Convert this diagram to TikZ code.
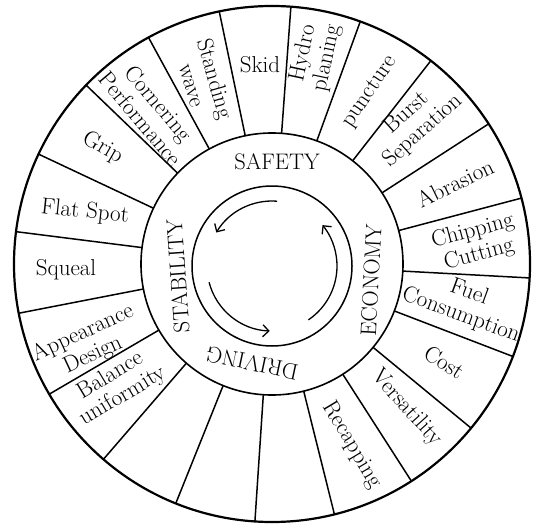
\documentclass[tikz,border=0pt]{standalone}
\usepackage{fontspec}
\usetikzlibrary{arrows.meta}
\begin{document}
\begin{tikzpicture}[x=1pt,y=1pt,
  lbl/.style={font=\fontsize{23}{24}\selectfont, align=center, inner sep=0pt},
  ringlbl/.style={font=\fontsize{22.5}{24}\selectfont, inner sep=0pt},
  spoke/.style={line width=1.5pt},
  arr/.style={line width=1.3pt, -{Straight Barb[length=6pt,width=12pt,line width=1.3pt]}}]
\useasboundingbox (0,0) rectangle (537,523);
\begin{scope}[shift={(272,259)}]
\coordinate (c) at (0,0);
\coordinate (ci) at (0,-2);
\draw[line width=2.2pt] (c) circle[radius=258];
\draw[line width=1.6pt] (c) circle[radius=131];
\draw[line width=1.5pt] (ci) circle[radius=80];
\foreach \a in {4.2,20.0,38.0,57.1,75.2,93.1,111.0,129.5,147.3,166.0,183.8,201.9,220.8,239.7,259.0,277.2,295.2,313.9,331.4,348.2}{
  \pgfmathsetmacro\b{90-\a}
  \draw[spoke] (\b:131) -- (\b:258);
}
% segment labels
\node[lbl] (skid) at (-12,199) {Skid};
\node[lbl, rotate=-74] (stand) at (-68,182) {Standing\\wave};
\node[lbl, rotate=78] (hydro) at (43,208) {Hydro\\planing};
\node[lbl, rotate=56] (punct) at (98,172) {puncture};
\node[lbl, rotate=42] (burst) at (143,142) {Burst\\Separation};
\node[lbl, rotate=26] (abr) at (183,81) {Abrasion};
\node[lbl, rotate=15] (chip) at (204,21) {Chipping\\Cutting};
\node[lbl, rotate=-20] (fuel) at (193,-40) {Fuel\\Consumption};
\node[lbl, rotate=-33] (cost) at (173,-98) {Cost};
\node[lbl, rotate=-48] (vers) at (135,-144) {Versatility};
\node[lbl, rotate=-59] (recap) at (80,-181) {Recapping};
\node[lbl, rotate=31] (bal) at (-155,-122) {Balance\\uniformity};
\node[lbl, rotate=25] (app) at (-184,-80) {Appearance\\Design};
\node[lbl] (sq) at (-206,-6) {Squeal};
\node[lbl, rotate=-6] (flat) at (-187,52) {Flat Spot};
\node[lbl, rotate=-30] (grip) at (-169,116) {Grip};
\node[lbl, rotate=-50] (corn) at (-122,153) {Cornering\\Performance};
% ring labels
\node[ringlbl] (safety) at (5,102) {SAFETY};
\node[ringlbl, rotate=87] (econ) at (99,-16) {ECONOMY};
\node[ringlbl, rotate=94] (stab) at (-94,-12) {STABILITY};
\node[ringlbl, rotate=168] (drive) at (-20,-99) {DRIVING};
% arrows
\draw[arr] ([shift={(0,-2)}]85.5:65) arc[start angle=85.5, end angle=149, radius=65];
\draw[arr] ([shift={(0,-2)}]-56:65) arc[start angle=-56, end angle=39, radius=65];
\draw[arr] ([shift={(0,-2)}]194.5:65) arc[start angle=194.5, end angle=268, radius=65];
\end{scope}
\end{tikzpicture}
\end{document}
